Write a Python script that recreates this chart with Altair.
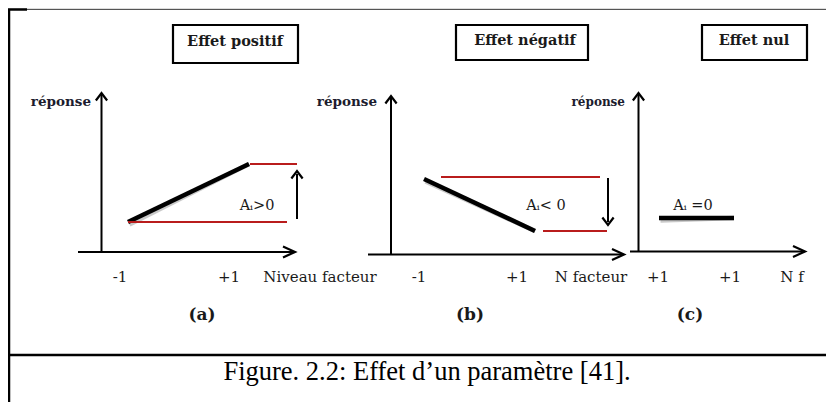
import altair as alt
import pandas as pd

# ---- canvas (page pixels, the chart starts at the 8px page margin) ----
X_DOMAIN = [8, 826]
Y_DOMAIN = [8, 402]

# ---- line segments: frame, axes, responses, red levels, effect arrows ----
seg_x1 = [8, 27, 9, 9,
          101.5, 78, 128, 128, 250, 297,
          391, 368, 424, 441, 543, 608,
          638.5, 630, 659]
seg_y1 = [9.5, 9.5, 9.5, 355,
          94, 252, 222, 222, 164, 219,
          97, 254.5, 179, 177, 231, 178,
          94, 251.5, 218]
seg_x2 = [27, 833, 9, 834,
          101.5, 293, 249, 287, 297, 297,
          391, 622, 535, 600, 607, 608,
          638.5, 803, 734]
seg_y2 = [9.5, 9.5, 410, 355,
          252, 252, 164, 222, 164, 174,
          255, 254.5, 231, 177, 231, 222,
          251.5, 251.5, 218]
seg_color = ["black", "#555555", "black", "black",
             "black", "black", "black", "#b91c1c", "#b91c1c", "black",
             "black", "black", "black", "#b91c1c", "#b91c1c", "black",
             "black", "black", "black"]
seg_width = [2.5, 1, 2.5, 2.5,
             2, 2, 4.5, 2, 2, 2,
             2, 2, 4.5, 2, 2, 2,
             2, 2, 4.5]

# ---- arrow heads (tips) ----
head_x = [295, 101.5, 297, 624, 391, 608, 805, 638.5]
head_y = [252, 93, 171, 254.5, 96, 225, 251.5, 93]
head_angle = [0, 270, 270, 0, 270, 90, 0, 270]
head_kind = ["h", "v", "v", "h", "v", "v", "h", "v"]

# ---- title boxes ----
box_x1 = [173, 456, 702]
box_y1 = [25, 25, 25]
box_x2 = [298, 588, 807]
box_y2 = [63, 60, 60]

# ---- texts ----
box_labels = ["Effet positif", "Effet négatif", "Effet nul"]
box_lx = [235, 525, 754]
box_ly = [46, 45, 45]

resp_labels = ["réponse", "réponse", "réponse"]
resp_x = [91, 377, 625]
resp_y = [106, 106, 106]
resp_size = [13.5, 13.5, 12]

tick_labels = ["-1", "+1", "Niveau facteur", "-1", "+1", "N facteur", "+1", "+1", "N f"]
tick_x = [120, 229, 320, 419, 517, 591, 658, 730, 792]
tick_y = [282] * 9

panel_labels = ["(a)", "(b)", "(c)"]
panel_x = [202, 470, 690]
panel_y = [320, 320, 320]

effect_labels = ["Aᵢ>0", "Aᵢ< 0", "Aᵢ =0"]
effect_x = [257, 546, 693]
effect_y = [210, 210, 210]

caption = ["Figure. 2.2: Effet d’un paramètre [41]."]
caption_x = [427]
caption_y = [380]

# ---- build ----
xs = alt.Scale(domain=X_DOMAIN, nice=False, zero=False)
ys = alt.Scale(domain=Y_DOMAIN, nice=False, zero=False, reverse=True)

def X(f):
    return alt.X(f, type="quantitative", scale=xs, axis=None)

def Y(f):
    return alt.Y(f, type="quantitative", scale=ys, axis=None)

segs = pd.DataFrame(dict(x=seg_x1, y=seg_y1, x2=seg_x2, y2=seg_y2,
                         c=seg_color, w=seg_width))
shadow = alt.Chart(segs).transform_filter("datum.w >= 4").mark_rule(
    color="#888888", opacity=0.45, xOffset=1.5, yOffset=2.5, strokeCap="butt"
).encode(x=X("x"), y=Y("y"), x2="x2", y2="y2",
         strokeWidth=alt.StrokeWidth("w:Q", scale=None))
lines = alt.Chart(segs).mark_rule(strokeCap="butt").encode(
    x=X("x"), y=Y("y"), x2="x2", y2="y2",
    color=alt.Color("c:N", scale=None),
    strokeWidth=alt.StrokeWidth("w:Q", scale=None))

heads_df = pd.DataFrame(dict(x=head_x, y=head_y, a=head_angle, k=head_kind))
heads_df["shape"] = heads_df["k"].map({"h": "M-1,-0.45L0,0L-1,0.45",
                                       "v": "M-1,-0.75L0,0L-1,0.75"})
heads_df["size"] = heads_df["k"].map({"h": 576, "v": 225})
heads = alt.Chart(heads_df).mark_point(
    filled=False, color="black", opacity=1, strokeWidth=2.2
).encode(x=X("x"), y=Y("y"),
         shape=alt.Shape("shape:N", scale=None),
         size=alt.Size("size:Q", scale=None),
         angle=alt.Angle("a:Q", scale=None))

boxes = alt.Chart(pd.DataFrame(dict(x=box_x1, y=box_y1, x2=box_x2, y2=box_y2))).mark_rect(
    fill="white", fillOpacity=0, stroke="black", strokeWidth=2.2
).encode(x=X("x"), y=Y("y"), x2="x2", y2="y2")

def texts(labels, xv, yv, size, font, weight="normal", align="center", color="#1a1a1a"):
    df = pd.DataFrame(dict(t=labels, x=xv, y=yv, s=size))
    return alt.Chart(df).mark_text(font=font, fontWeight=weight, align=align,
                                   baseline="alphabetic", color=color).encode(
        x=X("x"), y=Y("y"), text="t:N", size=alt.Size("s:Q", scale=None))

t_box = texts(box_labels, box_lx, box_ly, [14.5] * 3, "DejaVu Serif", "bold")
t_resp = texts(resp_labels, resp_x, resp_y, resp_size, "DejaVu Serif", "bold", align="right",
               color="#1c1c2e")
t_tick = texts(tick_labels, tick_x, tick_y, [15] * 9, "DejaVu Serif")
t_panel = texts(panel_labels, panel_x, panel_y, [17] * 3, "DejaVu Serif", "bold")
t_eff = texts(effect_labels, effect_x, effect_y, [14.5] * 3, "DejaVu Serif")
t_cap = texts(caption, caption_x, caption_y, [26.5], "Liberation Serif", color="black")

chart = alt.layer(
    shadow, lines, heads, boxes, t_box, t_resp, t_tick, t_panel, t_eff, t_cap
).properties(
    width=818, height=394, padding=0, autosize=alt.AutoSizeParams(type="none")
).configure_view(stroke=None).configure(background="white")

chart.save("out.html", embed_options={"renderer": "svg", "actions": False})
